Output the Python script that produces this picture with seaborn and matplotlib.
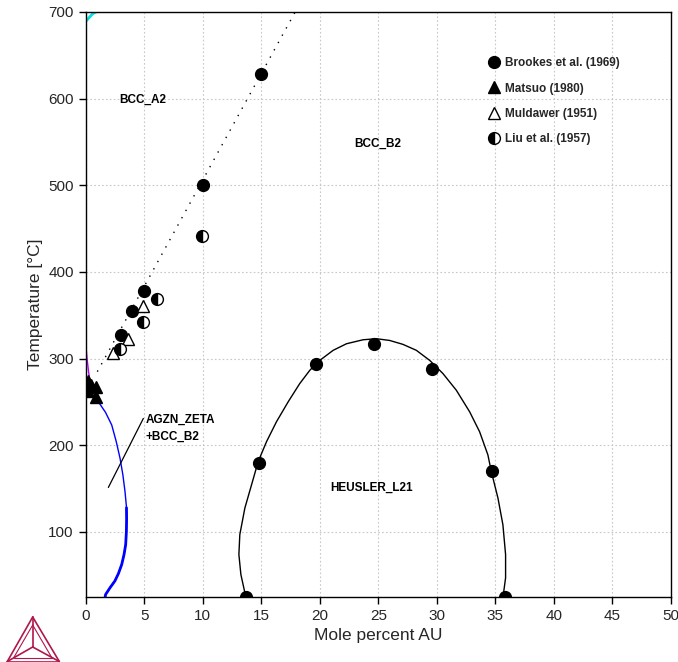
import matplotlib
matplotlib.use("Agg")
import matplotlib.pyplot as plt
from matplotlib.lines import Line2D
import seaborn as sns

# ---- experimental points ----
brookes_x = [15.0, 10.0, 5.0, 3.95, 3.0, 14.8, 19.7, 24.6, 29.6, 34.7, 13.7, 35.8]
brookes_y = [629, 500, 378, 355, 327, 180, 294, 317, 288, 170, 25, 25]
matsuo_x = [0.2, 0.5, 0.9, 0.9, 0.2]
matsuo_y = [274, 270, 267, 256, 263]
muldawer_x = [2.3, 3.6, 4.9]
muldawer_y = [306, 323, 361]
liu_x = [2.9, 6.1, 4.9, 9.9]
liu_y = [311, 369, 342, 441]

# ---- calculated boundaries ----
heusler_x = [13.75, 13.6, 13.26, 13.09, 13.17, 13.6, 14.17, 14.74, 15.45, 16.3, 17.3, 18.29,
             19.15, 20.0, 21.14, 22.28, 23.7, 24.84, 25.97, 27.1, 28.25, 29.39, 30.52,
             31.66, 32.8, 33.65, 34.36, 34.65, 35.22, 35.64, 35.87, 35.87, 35.7, 35.6]
heusler_y = [15, 30, 51, 74, 97, 127.6, 154.4, 181.3, 204.2, 227.2, 250.2, 271.3,
             286.6, 298, 309.6, 317.2, 321.8, 323, 321, 316.5, 309.6, 298, 282.8,
             263.6, 238.7, 215.7, 188.9, 169.8, 139, 108.4, 74, 47.1, 30, 15]
zeta_x = [1.5, 1.71, 2.1, 2.5, 2.8, 3.08, 3.28, 3.42, 3.48, 3.5, 3.48, 3.36, 3.18,
          2.94, 2.62, 2.23, 1.7, 1.09, 0.7, 0.4]
zeta_y = [15, 28, 36, 43.5, 52, 62.4, 74, 85.4, 100, 115, 130, 147, 166,
          185, 204, 223.4, 238, 250.2, 261, 271]
zeta_bold_x = [1.5, 1.71, 2.1, 2.5, 2.8, 3.08, 3.28, 3.42, 3.48, 3.5, 3.49]
zeta_bold_y = [15, 28, 36, 43.5, 52, 62.4, 74, 85.4, 100, 115, 128]
mag_x = [0.4, 0.25, 0.12, 0.03, 0.0]
mag_y = [271, 285, 300, 314, 318]
cyan_x = [0.0, 0.6, 0.9]
cyan_y = [689, 698, 700]
trend_x = [1.0, 18.1]
trend_y = [285, 705]
leader_x = [1.94, 4.93]
leader_y = [151.4, 231]

sns.set_theme(style="white")
plt.rcParams['font.family'] = ['Liberation Sans', 'DejaVu Sans']

fig = plt.figure(figsize=(6.78, 6.62), dpi=100)
ax = fig.add_axes([0.1263, 0.0982, 0.8634, 0.8837])

ax.grid(True, color='#c8c8c8', linestyle=(0, (1.5, 2)), linewidth=0.8)
ax.set_axisbelow(True)

sns.lineplot(x=heusler_x, y=heusler_y, sort=False, estimator=None, color='black', lw=1, ax=ax)
sns.lineplot(x=zeta_x, y=zeta_y, sort=False, estimator=None, color='blue', lw=1, ax=ax)
sns.lineplot(x=zeta_bold_x, y=zeta_bold_y, sort=False, estimator=None, color='blue', lw=2, ax=ax)
sns.lineplot(x=mag_x, y=mag_y, sort=False, estimator=None, color='#b000ff', lw=1, ax=ax)
sns.lineplot(x=cyan_x, y=cyan_y, sort=False, estimator=None, color='#00e0e0', lw=2, ax=ax)
sns.lineplot(x=trend_x, y=trend_y, sort=False, estimator=None, color='black', lw=1,
             linestyle=(0, (1, 5)), ax=ax)
sns.lineplot(x=leader_x, y=leader_y, sort=False, estimator=None, color='black', lw=0.9, ax=ax)

ms = 8.5
ax.plot(brookes_x, brookes_y, ls='none', marker='o', ms=ms, color='black')
ax.plot(matsuo_x, matsuo_y, ls='none', marker='^', ms=ms, color='black')
ax.plot(muldawer_x, muldawer_y, ls='none', marker='^', ms=ms, mfc='white', mec='black', mew=1)
ax.plot(liu_x, liu_y, ls='none', marker='o', ms=ms, fillstyle='left', mfc='black',
        mfcalt='white', mec='black', mew=1)

bold = dict(fontsize=8.5, fontweight='bold', color='black')
ax.text(4.9, 599, 'BCC_A2', ha='center', va='center', **bold)
ax.text(24.96, 548, 'BCC_B2', ha='center', va='center', **bold)
ax.text(24.4, 151, 'HEUSLER_L21', ha='center', va='center', **bold)
ax.text(5.1, 230, 'AGZN_ZETA', ha='left', va='center', **bold)
ax.text(5.1, 210, '+BCC_B2', ha='left', va='center', **bold)

handles = [
    Line2D([], [], ls='none', marker='o', ms=ms, color='black'),
    Line2D([], [], ls='none', marker='^', ms=ms, color='black'),
    Line2D([], [], ls='none', marker='^', ms=ms, mfc='white', mec='black', mew=1),
    Line2D([], [], ls='none', marker='o', ms=ms, fillstyle='left', mfc='black',
           mfcalt='white', mec='black', mew=1),
]
labels = ['Brookes et al. (1969)', 'Matsuo (1980)', 'Muldawer (1951)', 'Liu et al. (1957)']
ax.legend(handles, labels, loc='upper left', bbox_to_anchor=(0.678, 0.933), frameon=False,
          handlelength=1.0, handletextpad=0.4, labelspacing=1.14, borderpad=0,
          prop=dict(size=8.5, weight='bold'))

ax.set_xlim(0, 50)
ax.set_ylim(25, 700)
ax.set_xticks(range(0, 51, 5))
ax.set_yticks(range(100, 701, 100))
ax.set_xlabel('Mole percent AU', fontsize=12.5)
ax.set_ylabel('Temperature [°C]', fontsize=12.5)
ax.tick_params(axis='both', direction='out', length=5, width=1, labelsize=11,
               bottom=True, left=True, color='black')
for s in ax.spines.values():
    s.set_color('black')
    s.set_linewidth(1)

# logo
lc = '#b0174a'
def fx(p):
    return p / 678
def fy(p):
    return 1 - p / 662
top, bl, br, cen = (32.7, 617), (7.3, 661.5), (59.3, 661.5), (32.7, 647)
for a, b in [(top, bl), (bl, br), (br, top), (top, cen), (bl, cen), (br, cen)]:
    fig.add_artist(Line2D([fx(a[0]), fx(b[0])], [fy(a[1]), fy(b[1])], color=lc, lw=1.2))
itop, ibl, ibr = (32.7, 625), (13.5, 658), (52.0, 658)
for a, b in [(itop, ibl), (ibl, ibr), (ibr, itop)]:
    fig.add_artist(Line2D([fx(a[0]), fx(b[0])], [fy(a[1]), fy(b[1])], color=lc, lw=0.8))

fig.savefig('out.png', dpi=100)
